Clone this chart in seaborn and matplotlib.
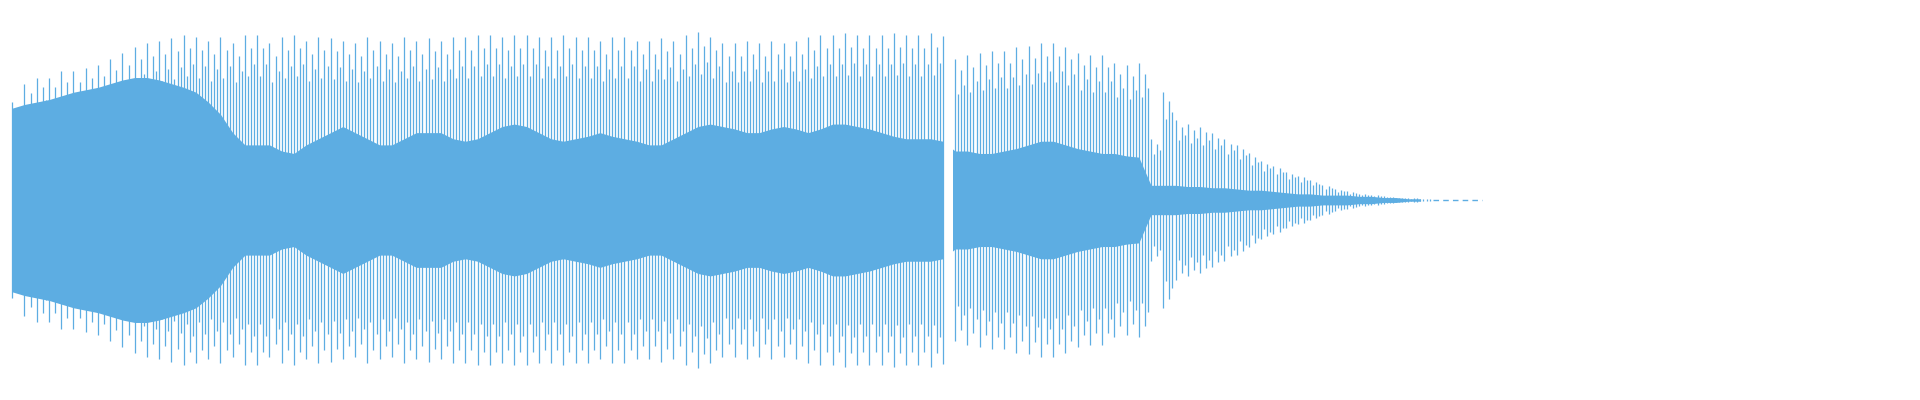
import numpy as np
import matplotlib
matplotlib.use("Agg")
import matplotlib.pyplot as plt
import seaborn as sns

# sample positions (pixels of the 1568-wide preview) and amplitudes
x_pos = list(range(10, 1220, 10))
peak_amp = [80, 95, 100, 100, 105, 105, 108, 110, 115, 120, 125, 128, 130, 132, 135, 133, 130, 133, 128, 135,
            135, 128, 133, 135, 130, 133, 132, 130, 128, 133, 130, 128, 133, 130, 132, 130, 133, 133, 135, 135,
            133, 135, 135, 133, 133, 135, 133, 133, 130, 133, 133, 130, 130, 132, 130, 135, 137, 133, 128, 128,
            130, 128, 130, 128, 130, 133, 135, 135, 136, 135, 135, 135, 136, 135, 135, 136, 134, 115, 118, 120,
            122, 122, 125, 126, 128, 128, 125, 120, 118, 118, 112, 110, 112, 50, 88, 65, 62, 60, 55, 50,
            45, 38, 32, 28, 23, 20, 16, 12, 9, 7, 5, 4, 3, 2, 1.5, 1, 0.5, 0.3, 0.3, 0.3, 0.3]
body_amp = [75, 78, 80, 82, 85, 88, 90, 92, 95, 98, 100, 100, 98, 95, 92, 88, 80, 70, 55, 45,
            45, 45, 40, 38, 45, 50, 55, 60, 55, 50, 45, 45, 50, 55, 55, 55, 50, 48, 50, 55,
            60, 62, 60, 55, 50, 48, 50, 52, 55, 52, 50, 48, 45, 45, 50, 55, 60, 62, 60, 58,
            55, 55, 58, 60, 58, 55, 58, 62, 62, 60, 58, 55, 52, 50, 50, 50, 48, 40, 40, 38,
            38, 40, 42, 45, 48, 48, 45, 42, 40, 38, 38, 36, 35, 12, 12, 12, 11, 11, 10, 10,
            9, 8, 8, 7, 6, 5, 5, 4, 4, 4, 3, 3, 2, 2, 1, 1, 0.5, 0.3, 0.3, 0.3, 0.3]
# short silent gap between the second and third phrase
gap_start, gap_end = 771, 778

sns.set_theme(style="white")
color = "#5dade2"

fig = plt.figure(figsize=(19.2, 4.0), dpi=100)
ax = fig.add_axes([0, 0, 1, 1])

x = np.array(x_pos, dtype=float)
pk = np.array(peak_amp)
bd = np.array(body_amp)
solid = x < 1170

ax.fill_between(x[solid], -bd[solid], bd[solid], color=color, linewidth=0)
for off, scale in [(0, 1.0), (2.5, 0.75), (5, 0.92), (7.5, 0.82)]:
    xs = x[solid] + off
    keep = (xs < gap_start) | (xs > gap_end)
    ax.vlines(xs[keep], -scale * pk[solid][keep], scale * pk[solid][keep], color=color, linewidth=0.9)
ax.axvspan(gap_start, gap_end, ymin=0.2, ymax=0.8, color="white", linewidth=0)
ax.plot(x[~solid], np.zeros((~solid).sum()), color=color, linewidth=1, linestyle=(0, (4, 3)))

ax.set_xlim(0, 1568)
ax.set_ylim(-163.3, 163.3)
ax.axis("off")
fig.savefig("out.png", dpi=100, facecolor="white")
